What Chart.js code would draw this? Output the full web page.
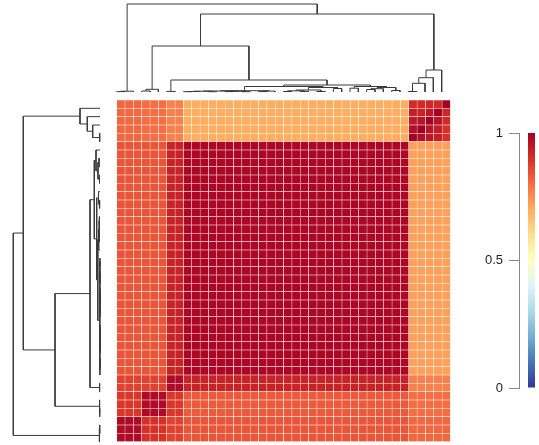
<!DOCTYPE html>
<html>
<head>
<meta charset="utf-8">
<script src="https://cdn.jsdelivr.net/npm/chart.js@4.4.1/dist/chart.umd.min.js"></script>
<style>
html, body { margin: 0; padding: 0; background: #fff; overflow: hidden; }
#wrap { position: relative; width: 539px; height: 445px; }
canvas { position: absolute; top: 0; }
</style>
</head>
<body>
<div id="wrap">
  <canvas id="heat" width="539" height="445" style="left:0;width:539px;height:445px"></canvas>
  <canvas id="topTree" width="539" height="445" style="left:0;width:539px;height:445px"></canvas>
  <canvas id="leftTree" width="539" height="445" style="left:0;width:539px;height:445px"></canvas>
  <canvas id="scale" width="84" height="445" style="left:460px;width:84px;height:445px"></canvas>
</div>
<script>
// group sizes in display order (columns left->right, rows top->bottom)
const colGroupSizes = [3, 3, 2, 27, 5];
const rowGroupSizes = [5, 28, 2, 3, 3];

// mean correlation per block, rows = row groups, cols = column groups
const blockValues = [
  [0.81, 0.80, 0.77, 0.70, 0.95],
  [0.84, 0.84, 0.93, 0.985, 0.72],
  [0.87, 0.87, 0.98, 0.93, 0.77],
  [0.89, 0.98, 0.89, 0.83, 0.80],
  [0.98, 0.90, 0.87, 0.84, 0.81]
];

// top right corner (rows 1-5, cols 36-40) read cell by cell
const cornerBlock = [
  [0.91, 0.91, 0.92, 0.91, 1.00],
  [0.94, 0.93, 0.95, 1.00, 0.92],
  [0.95, 0.96, 1.00, 0.96, 0.91],
  [0.97, 1.00, 0.96, 0.94, 0.90],
  [1.00, 0.97, 0.95, 0.94, 0.90]
];

// hclust style merges: negative = leaf (1-based display position), positive = earlier merge
const colMerges = [
  [-1, -2, 0.4], [1, -3, 0.8],
  [-4, -5, 1.0], [3, -6, 2.7],
  [-7, -8, 0.6],
  [-9, -10, 0.3], [6, -11, 0.5], [-12, -13, 0.3], [7, 8, 0.8],
  [-14, -15, 0.4], [-16, -17, 0.3], [10, 11, 0.7], [9, 12, 1.0],
  [-18, -19, 0.4], [14, -20, 0.9], [13, 15, 1.3],
  [-21, -22, 0.5], [-23, -24, 0.6], [17, 18, 1.2], [-25, -26, 0.5],
  [19, 20, 2.0], [-27, -28, 3.5], [21, 22, 4.5], [16, 23, 5.5],
  [-29, -30, 3.8], [-31, -32, 2.5], [26, -33, 3.3], [-34, -35, 1.5],
  [27, 28, 4.5], [25, 29, 5.5], [24, 30, 7.0],
  [5, 31, 12], [4, 32, 46],
  [-36, -37, 0.5], [34, -38, 8.7], [35, -39, 14.3], [36, -40, 22],
  [33, 37, 78], [2, 38, 88]
];

const rowMerges = [
  [-4, -5, 0.3], [-3, 1, 7.3], [-2, 2, 12.7], [-1, 3, 20],
  [-9, -10, 0.5], [-7, -8, 1.0], [6, 5, 2.0], [-6, 7, 4.0],
  [-12, -13, 0.4], [-11, 9, 1.5],
  [-14, -15, 0.6], [-16, -17, 0.5], [11, 12, 1.0], [13, -18, 1.3],
  [-19, -20, 0.05], [-21, -22, 0.05], [15, 16, 0.1], [-23, -24, 0.05],
  [-25, -26, 0.05], [18, 19, 0.1], [17, 20, 0.15], [-27, -28, 0.05],
  [-29, -30, 0.05], [22, 23, 0.1], [-31, -32, 0.05], [25, -33, 0.1],
  [24, 26, 0.15], [21, 27, 0.2], [14, 28, 2.2],
  [10, 29, 3.3], [8, 30, 5.7],
  [-34, -35, 0.4], [31, 32, 10],
  [-37, -38, 0.3], [-36, 34, 0.5], [33, 35, 45],
  [4, 36, 76.7],
  [-39, -40, 0.3], [38, -41, 0.6],
  [37, 39, 86.7]
];

const scaleTicks = [0, 0.5, 1];
const palette = ['#313695', '#4575b4', '#74add1', '#abd9e9', '#e0f3f8', '#ffffbf',
                 '#fee090', '#fdae61', '#f46d43', '#d73027', '#a50026'];

Chart.defaults.font.family = '"Liberation Sans", Arial, sans-serif';
Chart.defaults.animation = false;
Chart.defaults.plugins.legend.display = false;
Chart.defaults.plugins.tooltip.enabled = false;

function hexRgb(h) {
  return [1, 3, 5].map(i => parseInt(h.substr(i, 2), 16));
}
function colorFor(v) {
  const t = Math.max(0, Math.min(1, v)) * (palette.length - 1);
  const i = Math.min(Math.floor(t), palette.length - 2);
  const f = t - i;
  const a = hexRgb(palette[i]), b = hexRgb(palette[i + 1]);
  const c = a.map((x, k) => Math.round(x + (b[k] - x) * f));
  return 'rgb(' + c.join(',') + ')';
}

function expand(sizes) {
  const out = [];
  sizes.forEach((n, g) => { for (let i = 0; i < n; i++) out.push(g); });
  return out;
}
const colGroup = expand(colGroupSizes);
const rowGroup = expand(rowGroupSizes);
const nCols = colGroup.length;
const nRows = rowGroup.length;
const colLabels = colGroup.map((g, i) => 'V' + (i + 1));

function cellValue(r, c) {
  if (r < 5 && c >= nCols - 5) return cornerBlock[r][c - (nCols - 5)];
  return blockValues[rowGroup[r]][colGroup[c]];
}

// heatmap: one stacked dataset per row, bottom row first
const heatSets = [];
for (let r = nRows - 1; r >= 0; r--) {
  heatSets.push({
    data: colLabels.map(() => 1),
    backgroundColor: colLabels.map((_, c) => colorFor(cellValue(r, c))),
    borderColor: '#ffffff',
    borderWidth: 0.5,
    borderSkipped: false,
    barPercentage: 1,
    categoryPercentage: 1
  });
}

new Chart(document.getElementById('heat'), {
  type: 'bar',
  data: { labels: colLabels, datasets: heatSets },
  options: {
    responsive: false,
    layout: { padding: { left: 116.7, right: 88.5, top: 100, bottom: 3.3 } },
    scales: {
      x: { stacked: true, display: false },
      y: { stacked: true, display: false, min: 0, max: nRows }
    }
  }
});

function treeSegments(merges) {
  const pos = [], hgt = [];
  const node = k => k < 0 ? { p: -k - 1, h: 0 } : { p: pos[k - 1], h: hgt[k - 1] };
  return merges.map(([a, b, h], i) => {
    const A = node(a), B = node(b);
    pos[i] = (A.p + B.p) / 2;
    hgt[i] = h;
    return [[A.p, A.h], [A.p, h], [B.p, h], [B.p, B.h]];
  });
}

const lineColor = '#3a3a3a';
function treeSets(segs, flip) {
  return segs.map(s => ({
    data: s.map(([p, h]) => flip ? { x: h, y: p } : { x: p, y: h }),
    showLine: true,
    borderColor: lineColor,
    borderWidth: 1,
    pointRadius: 0,
    tension: 0,
    clip: false
  }));
}

new Chart(document.getElementById('topTree'), {
  type: 'scatter',
  data: { datasets: treeSets(treeSegments(colMerges), false) },
  options: {
    responsive: false,
    layout: { padding: { left: 116.7, right: 89, top: 4, bottom: 353 } },
    scales: {
      x: { display: false, min: 0, max: nCols },
      y: { display: false, min: 0, max: 88 }
    }
  }
});

new Chart(document.getElementById('leftTree'), {
  type: 'scatter',
  data: { datasets: treeSets(treeSegments(rowMerges), true) },
  options: {
    responsive: false,
    layout: { padding: { left: 12, right: 439, top: 100, bottom: 3.3 } },
    scales: {
      x: { display: false, min: 0, max: 88, reverse: true },
      y: { display: false, min: -1, max: nRows - 1, reverse: true }
    }
  }
});

// colour key
function keyGradient(ctx) {
  const chart = ctx.chart;
  if (!chart.chartArea) return palette[palette.length - 1];
  const y = chart.scales.y;
  const g = chart.ctx.createLinearGradient(0, y.getPixelForValue(0), 0, y.getPixelForValue(1));
  palette.forEach((c, i) => g.addColorStop(i / (palette.length - 1), c));
  return g;
}

new Chart(document.getElementById('scale'), {
  type: 'bar',
  data: {
    labels: [''],
    datasets: [{
      data: [[scaleTicks[0], scaleTicks[scaleTicks.length - 1]]],
      backgroundColor: keyGradient,
      borderWidth: 0,
      barPercentage: 0.28,
      categoryPercentage: 1
    }]
  },
  options: {
    responsive: false,
    layout: { padding: { left: 0, right: 0, top: 133, bottom: 57 } },
    scales: {
      x: { display: false },
      y: {
        min: 0, max: 1,
        afterBuildTicks: s => { s.ticks = scaleTicks.map(v => ({ value: v })); },
        afterFit: s => { s.width = 59; },
        ticks: { color: '#222', font: { size: 13 }, padding: 6, callback: v => String(v) },
        grid: { drawOnChartArea: false, tickLength: 10, color: '#888' },
        border: { color: '#888' }
      }
    }
  }
});
</script>
</body>
</html>
